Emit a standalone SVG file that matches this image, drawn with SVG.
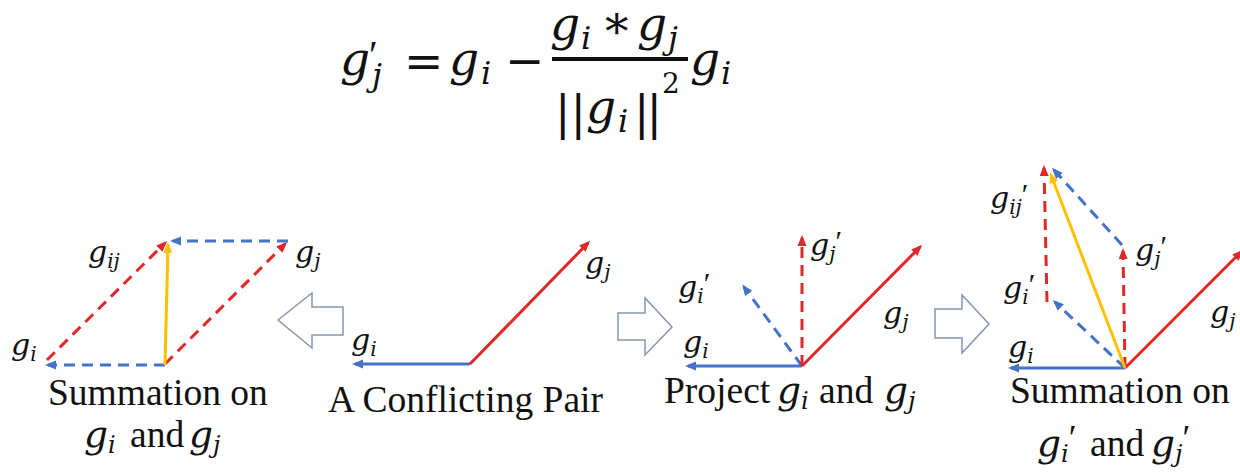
<svg xmlns="http://www.w3.org/2000/svg" width="1240" height="474" viewBox="0 0 1240 474">
<style>
.m{font-family:"DejaVu Serif",serif;font-style:italic;fill:#111}
.u{font-family:"DejaVu Serif",serif;fill:#111}
.pr{font-family:"Liberation Serif",serif;font-style:normal;fill:#111}
.cap{font-family:"Liberation Serif",serif;font-size:37.5px;fill:#111}
.lb{font-size:30px}
.ls{font-size:20px}
.fm{font-size:47px}
.fs{font-size:32px}
.b{stroke:#4472C4;stroke-width:3;fill:none}
.r{stroke:#E0282A;stroke-width:3;fill:none}
.y{stroke:#FFC000;stroke-width:3;fill:none}
.d{stroke-dasharray:11 7}
.ha{fill:#fff;stroke:#8497B0;stroke-width:1.5;stroke-linejoin:miter}
</style>
<defs>
<marker id="ab" viewBox="0 0 11 10" refX="8" refY="5" markerWidth="11" markerHeight="10" markerUnits="userSpaceOnUse" orient="auto"><path d="M0,0.5 L11,5 L0,9.5 z" fill="#4472C4"/></marker>
<marker id="ar" viewBox="0 0 11 10" refX="8" refY="5" markerWidth="11" markerHeight="10" markerUnits="userSpaceOnUse" orient="auto"><path d="M0,0.5 L11,5 L0,9.5 z" fill="#E0282A"/></marker>
<marker id="ay" viewBox="0 0 11 10" refX="8" refY="5" markerWidth="11" markerHeight="10" markerUnits="userSpaceOnUse" orient="auto"><path d="M0,0.5 L11,5 L0,9.5 z" fill="#FFC000"/></marker>
</defs>

<g id="formula">
<text class="m fm" x="340" y="75">g<tspan class="pr" font-size="40" x="369" y="68">′</tspan><tspan class="fs" x="372" y="86">j</tspan></text>
<text class="u fm" x="404" y="77">=</text>
<text class="m fm" x="449" y="75">g<tspan class="fs" x="481" y="84">i</tspan></text>
<text class="u fm" x="505" y="77">−</text>
<text class="m fm" x="550" y="40">g<tspan class="fs" x="581" y="49">i</tspan><tspan class="u" x="605" y="48">*</tspan><tspan x="637" y="40">g</tspan><tspan class="fs" x="668" y="49">j</tspan></text>
<rect x="552" y="57" width="136" height="4" fill="#111"/>
<text class="u" font-size="46" x="555" y="129">||<tspan class="m fm" x="586" y="123">g</tspan><tspan class="m fs" x="618" y="132">i</tspan><tspan x="634" y="129" letter-spacing="-3">||</tspan><tspan font-size="28" x="662" y="93">2</tspan></text>
<text class="m fm" x="690" y="75">g<tspan class="fs" x="721" y="84">i</tspan></text>
</g>

<g id="connectors">
<!-- panel 1 -->
<line class="b d" x1="165" y1="365" x2="48" y2="365" marker-end="url(#ab)"/>
<line class="r d" x1="47" y1="360" x2="165" y2="243" marker-end="url(#ar)"/>
<line class="r d" x1="165" y1="364" x2="285" y2="244" marker-end="url(#ar)"/>
<line class="b d" x1="288" y1="241" x2="173" y2="241" marker-end="url(#ab)"/>
<line class="y" x1="165" y1="365" x2="168" y2="245" marker-end="url(#ay)"/>
<!-- panel 2 -->
<line class="b" x1="470" y1="364" x2="355" y2="364" marker-end="url(#ab)"/>
<line class="r" x1="470" y1="364" x2="588" y2="243" marker-end="url(#ar)"/>
<!-- panel 3 -->
<line class="b" x1="802" y1="366" x2="688" y2="366" marker-end="url(#ab)"/>
<line class="r" x1="802" y1="366" x2="920" y2="247" marker-end="url(#ar)"/>
<line class="b d" x1="802" y1="366" x2="744" y2="287" marker-end="url(#ab)"/>
<line class="r d" x1="802" y1="366" x2="802" y2="238" marker-end="url(#ar)"/>
<!-- panel 4 -->
<line class="b" x1="1125" y1="368" x2="1011" y2="368" marker-end="url(#ab)"/>
<line class="r" x1="1125" y1="368" x2="1241" y2="252" marker-end="url(#ar)"/>
<line class="b d" x1="1125" y1="368" x2="1055" y2="302" marker-end="url(#ab)"/>
<line class="r d" x1="1125" y1="368" x2="1123" y2="251" marker-end="url(#ar)"/>
<line class="r d" x1="1047" y1="302" x2="1044" y2="168" marker-end="url(#ar)"/>
<line class="b d" x1="1122" y1="245" x2="1054" y2="170" marker-end="url(#ab)"/>
<line class="y" x1="1125" y1="368" x2="1051" y2="175" marker-end="url(#ay)"/>
</g>

<g id="arrow-left">
<polygon class="ha" points="278,320 312,293 312,307 343,307 343,335 312,335 312,348"/>
</g>
<g id="arrow-mid">
<polygon class="ha" points="672,327 645,298 645,313 618,313 618,340 645,340 645,355"/>
</g>
<g id="arrow-right">
<polygon class="ha" points="989,324 962,295 962,309 935,309 935,338 962,338 962,353"/>
</g>

<g id="panel-summation">
<text class="m lb" x="88" y="262">g<tspan class="ls" dy="6">ij</tspan></text>
<text class="m lb" x="295" y="262">g<tspan class="ls" dy="6">j</tspan></text>
<text class="m lb" x="11" y="355">g<tspan class="ls" dy="6">i</tspan></text>
<text class="cap" x="48" y="405">Summation on</text>
<text class="cap" x="84" y="447"><tspan class="m">g</tspan><tspan class="m" font-size="24" dy="6">i</tspan><tspan dy="-6" x="130">and</tspan><tspan class="m" x="189">g</tspan><tspan class="m" font-size="24" dy="6">j</tspan></text>
</g>

<g id="panel-conflicting">
<text class="m lb" x="585" y="273">g<tspan class="ls" dy="6">j</tspan></text>
<text class="m lb" x="351" y="350">g<tspan class="ls" dy="6">i</tspan></text>
<text class="cap" x="328" y="412">A Conflicting Pair</text>
</g>

<g id="panel-project">
<text class="m lb" x="810" y="255">g<tspan class="ls" dy="6">j</tspan><tspan class="pr" font-size="30" dy="-10">′</tspan></text>
<text class="m lb" x="678" y="297">g<tspan class="ls" dy="6">i</tspan><tspan class="pr" font-size="30" dy="-10">′</tspan></text>
<text class="m lb" x="883" y="323">g<tspan class="ls" dy="6">j</tspan></text>
<text class="m lb" x="683" y="352">g<tspan class="ls" dy="6">i</tspan></text>
<text class="cap" x="664" y="403">Project<tspan class="m" x="777">g</tspan><tspan class="m" font-size="24" dy="6">i</tspan><tspan dy="-6" x="819">and</tspan><tspan class="m" x="884">g</tspan><tspan class="m" font-size="24" dy="6">j</tspan></text>
</g>

<g id="panel-summation-2">
<text class="m lb" x="990" y="208">g<tspan class="ls" dy="6">ij</tspan><tspan class="pr" font-size="30" dy="-10">′</tspan></text>
<text class="m lb" x="1135" y="260">g<tspan class="ls" dy="6">j</tspan><tspan class="pr" font-size="30" dy="-10">′</tspan></text>
<text class="m lb" x="1003" y="298">g<tspan class="ls" dy="6">i</tspan><tspan class="pr" font-size="30" dy="-10">′</tspan></text>
<text class="m lb" x="1210" y="322">g<tspan class="ls" dy="6">j</tspan></text>
<text class="m lb" x="1008" y="357">g<tspan class="ls" dy="6">i</tspan></text>
<text class="cap" x="1010" y="403">Summation on</text>
<text class="cap" x="1037" y="456"><tspan class="m">g</tspan><tspan class="m" font-size="24" dy="6">i</tspan><tspan class="pr" font-size="36" dy="-12">′</tspan><tspan dy="6" x="1090">and</tspan><tspan class="m" x="1151">g</tspan><tspan class="m" font-size="24" dy="6">j</tspan><tspan class="pr" font-size="36" dy="-12">′</tspan></text>
</g>
</svg>
